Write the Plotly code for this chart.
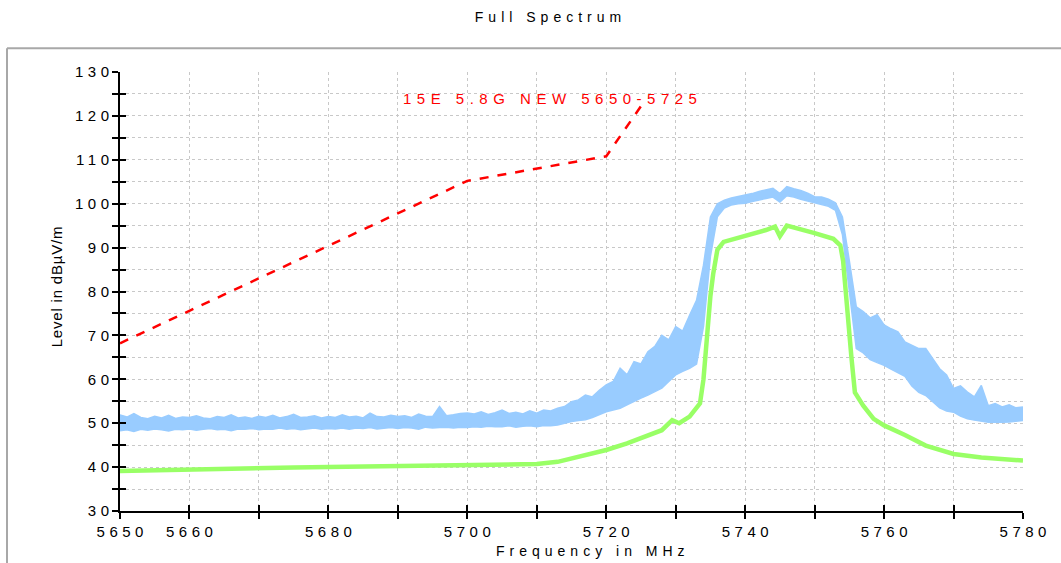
"""
Full Spectrum - 15E 5.8G NEW 5650-5725
"""

import plotly.graph_objects as go

# ---- data ----
freq = list(range(5650, 5781))  # MHz, 1 MHz steps

# peak trace: lower / upper edge of the noisy band (dBuV/m)
peak_lo = [
    48.3, 48.5, 48.1, 48.6, 48.4, 48.7, 48.5, 48.2, 48.6, 48.5,
    48.7, 48.4, 48.6, 48.8, 48.5, 48.6, 48.3, 48.7, 48.6, 48.8,
    48.5, 48.7, 48.6, 48.9, 48.6, 48.8, 48.5, 48.7, 48.9, 48.6,
    48.8, 48.7, 48.9, 48.6, 48.9, 48.8, 49.0, 48.7, 48.9, 49.0,
    48.8, 49.0, 48.9, 48.6, 49.1, 48.9, 49.0, 49.1, 48.9, 49.1,
    49.0, 49.2, 49.1, 49.3, 49.2, 49.2, 49.4, 49.1, 49.3, 49.4,
    49.2, 49.5, 49.4, 49.6, 50.0, 50.4, 50.6, 50.8, 51.3, 52.0,
    52.6, 53.0, 53.4, 54.2, 55.0, 55.7, 56.4, 57.2, 58.0, 59.5,
    61.0, 61.8, 62.5, 63.5, 72.0, 88.0, 97.0, 99.0, 99.7, 100.0,
    100.1, 100.5, 100.9, 101.2, 101.5, 100.4, 101.8, 101.5, 101.0, 100.6,
    100.1, 99.8, 99.4, 98.5, 93.0, 80.0, 67.0, 66.0, 64.5, 63.8,
    63.2, 62.3, 61.5, 60.7, 58.5, 57.0, 56.3, 55.0, 53.5, 52.8,
    52.5, 51.6, 51.0, 50.7, 50.4, 50.2, 50.3, 50.2, 50.3, 50.4, 50.6,
]
peak_hi = [
    51.9, 51.4, 52.2, 51.3, 51.0, 51.6, 51.2, 51.8, 51.1, 51.4,
    51.3, 51.7, 51.2, 51.0, 51.5, 51.3, 51.9, 51.2, 51.4, 51.1,
    51.6, 51.3, 51.8, 51.2, 51.5, 52.0, 51.3, 51.4, 51.7, 51.2,
    51.5, 51.3, 51.9, 51.4, 51.6, 51.2, 52.3, 51.5, 51.4, 51.8,
    51.5, 51.7, 51.3, 52.1, 51.6, 51.5, 53.8, 51.7, 51.9, 52.2,
    52.3, 52.1, 52.6, 52.0, 52.4, 53.0, 52.2, 52.5, 52.1, 52.8,
    52.3, 53.0, 52.8, 53.4, 53.8, 54.9, 55.3, 56.4, 56.0, 57.5,
    58.7, 59.5, 62.5, 61.0, 64.0, 63.5, 66.3, 67.5, 70.0, 69.0,
    72.0, 71.0, 74.6, 78.0, 86.0, 97.0, 100.0, 100.8, 101.3, 101.6,
    102.0, 102.3, 102.8, 103.1, 103.5, 102.3, 103.9, 103.4, 103.0, 102.4,
    101.6, 101.5, 101.0, 100.2, 97.0, 87.0, 76.5, 75.4, 74.0, 74.7,
    72.4, 71.5, 70.8, 68.5, 67.8, 67.0, 67.0, 64.7, 62.4, 61.0,
    57.9, 58.5, 57.1, 56.0, 58.6, 54.0, 54.5, 53.7, 54.2, 53.5, 53.7,
]

# average trace
avg_freq = [
    5650, 5655, 5660, 5665, 5670, 5675, 5680, 5685, 5690, 5695,
    5700, 5705, 5710, 5713, 5716, 5720, 5723, 5726, 5728, 5729.5,
    5730.5, 5732, 5733, 5733.5, 5734, 5734.5, 5735, 5735.4, 5736, 5736.9,
    5738, 5740, 5743, 5744.3, 5745, 5746, 5748, 5750, 5752.7, 5753.2,
    5753.7, 5754.1, 5754.4, 5754.9, 5755.3, 5755.8, 5756.5, 5757, 5758.5, 5760,
    5763, 5766, 5770, 5774, 5780,
]
avg_level = [
    39.1, 39.3, 39.5, 39.7, 39.8, 39.9, 40.0, 40.1, 40.2, 40.3,
    40.4, 40.5, 40.7, 41.2, 42.3, 43.9, 45.4, 47.3, 48.4, 50.7,
    50.0, 51.5, 53.4, 54.5, 60.0, 71.0, 79.0, 84.0, 89.5, 91.3,
    91.8, 92.5, 94.0, 94.8, 92.6, 95.0, 94.2, 93.3, 92.0, 91.4,
    90.5, 87.0, 81.0, 72.0, 65.0, 57.0, 55.0, 54.0, 51.0, 49.5,
    47.3, 44.9, 43.0, 42.2, 41.5,
]

# limit line
limit_name = "15E 5.8G NEW 5650-5725"
limit_freq = [5650, 5700, 5720, 5725]
limit_level = [68.2, 105.2, 110.8, 122.2]

x_tickvals = list(range(5650, 5781, 10))
x_ticktext = ["5650", "5660", "", "5680", "", "5700", "", "5720", "", "5740", "", "5760", "", "5780"]
y_tickvals = list(range(30, 131, 5))
y_ticktext = ["30", "", "40", "", "50", "", "60", "", "70", "", "80", "", "90", "",
              "100", "", "110", "", "120", "", "130"]

FONT = "Arial, Liberation Sans, sans-serif"


def spaced(text, px):
    """letter-spaced text (no trailing gap after the last char)"""
    if len(text) < 2:
        return text
    return f'<span style="letter-spacing:{px}px">{text[:-1]}</span>{text[-1]}'


fig = go.Figure()

fig.add_trace(go.Scatter(
    x=freq, y=peak_lo, mode="lines",
    line=dict(color="#99ccff", width=1.5), hoverinfo="skip", showlegend=False,
))
fig.add_trace(go.Scatter(
    x=freq, y=peak_hi, mode="lines", fill="tonexty", fillcolor="#99ccff",
    line=dict(color="#99ccff", width=1.5), showlegend=False,
))
fig.add_trace(go.Scatter(
    x=avg_freq, y=avg_level, mode="lines",
    line=dict(color="#99ff66", width=4.5), showlegend=False,
))
fig.add_trace(go.Scatter(
    x=limit_freq, y=limit_level, mode="lines",
    line=dict(color="#ff0000", width=2.5, dash="dash"), showlegend=False,
))
# helper trace for the overlay axes (inner half of the tick marks)
fig.add_trace(go.Scatter(x=[], y=[], xaxis="x2", yaxis="y2", showlegend=False))

axis_common = dict(
    ticks="outside", ticklen=6, tickwidth=1.5, tickcolor="black",
    showline=True, linecolor="black", linewidth=2,
    showgrid=True, gridcolor="#c8c8c8", gridwidth=1, griddash="dot",
    zeroline=False, tickfont=dict(family=FONT, size=15, color="black"),
)

fig.update_layout(
    width=1061, height=563,
    margin=dict(l=120, r=38, t=72, b=52),
    paper_bgcolor="white", plot_bgcolor="white",
    font=dict(family=FONT, color="black"),
    title=dict(text=spaced("Full Spectrum", 5), x=548 / 1061, xref="container",
               xanchor="center", y=1 - 17 / 563, yanchor="middle",
               font=dict(size=14, color="black")),
    xaxis=dict(range=[5650, 5780], tickvals=x_tickvals,
               ticktext=[spaced(t, 4.5) for t in x_ticktext], **axis_common),
    yaxis=dict(range=[30, 130], tickvals=y_tickvals,
               ticktext=[spaced(t, 4.5) for t in y_ticktext], **axis_common),
    xaxis2=dict(range=[5650, 5780], overlaying="x", anchor="y2", side="bottom",
                tickvals=x_tickvals, ticks="inside", ticklen=6, tickwidth=1.5,
                tickcolor="black", showticklabels=False, showgrid=False,
                showline=False, zeroline=False),
    yaxis2=dict(range=[30, 130], overlaying="y", anchor="x2", side="left",
                tickvals=y_tickvals, ticks="inside", ticklen=6, tickwidth=1.5,
                tickcolor="black", showticklabels=False, showgrid=False,
                showline=False, zeroline=False),
)

# axis titles and limit label
fig.add_annotation(text=spaced("Frequency in MHz", 5), xref="paper", yref="paper",
                   x=0.5 + (590 - 571.5) / 903, y=-(551 - 510.7) / 439,
                   xanchor="center", yanchor="middle", showarrow=False,
                   font=dict(size=14, color="black"))
fig.add_annotation(text=spaced("Level in dBµV/m", 0.8), xref="paper", yref="paper",
                   x=-(120 - 56) / 903, y=(510.7 - 287) / 439, textangle=-90,
                   xanchor="center", yanchor="middle", showarrow=False,
                   font=dict(size=15, color="black"))
fig.add_annotation(text=spaced(limit_name, 5.5), x=5690.4, y=124, xanchor="left",
                   yanchor="middle", showarrow=False,
                   font=dict(size=15, color="#ff0000"))

# grey frame around the chart
fig.add_shape(type="line", xref="paper", yref="paper",
              x0=-(120 - 7) / 903, x1=-(120 - 7) / 903, y0=(510.7 - 48) / 439, y1=-0.2,
              line=dict(color="#a8a8a8", width=2))
fig.add_shape(type="line", xref="paper", yref="paper",
              x0=-(120 - 7) / 903, x1=1.1, y0=(510.7 - 48) / 439, y1=(510.7 - 48) / 439,
              line=dict(color="#a8a8a8", width=2))

# no default page margin, so the figure sits at the window's top-left corner
fig.write_html("out.html", config={"displayModeBar": False},
               post_script="document.body.style.margin='0';")
